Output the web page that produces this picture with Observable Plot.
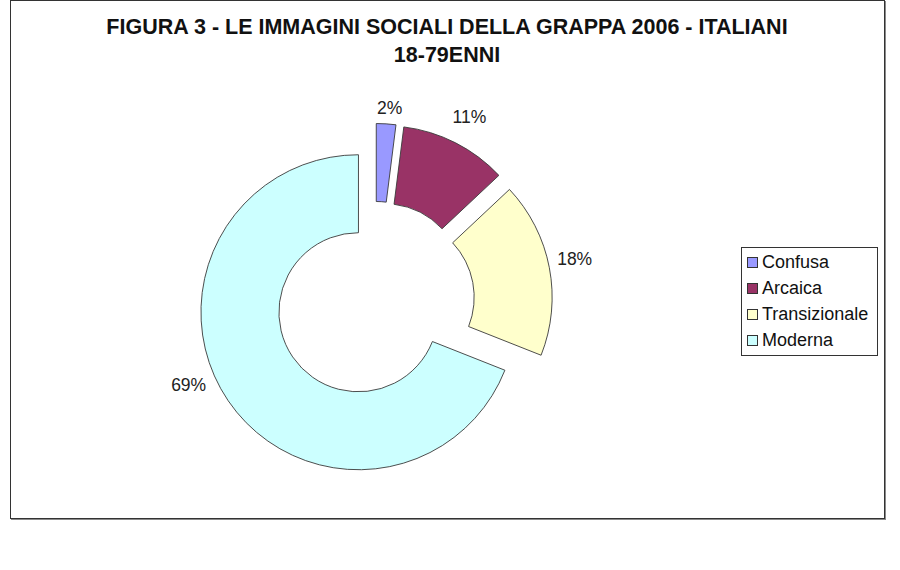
<!DOCTYPE html>
<html>
<head>
<meta charset="utf-8">
<script src="https://cdn.jsdelivr.net/npm/d3@7"></script>
<script src="https://cdn.jsdelivr.net/npm/@observablehq/plot@0.6"></script>
<style>
  html, body { margin: 0; padding: 0; background: #fff; }
  #wrap { position: relative; width: 900px; height: 570px; font-family: "Liberation Sans", Arial, sans-serif; }
  #frame { position: absolute; left: 10px; top: 0px; width: 873px; height: 517px; border: 1px solid #333; box-shadow: 1px 1px 0 #8a8a8a; }
  #title { position: absolute; left: 10px; width: 874px; top: 13px; text-align: center; font-weight: bold; font-size: 21.5px; line-height: 28px; color: #111; }
  #legend { position: absolute; left: 741px; top: 247px; width: 137px; height: 109px; border: 1px solid #333; box-sizing: border-box; padding-top: 1px; }
  .item { display: flex; align-items: center; height: 26px; font-size: 18px; color: #111; padding-left: 5px; white-space: nowrap; }
  .sw { width: 11px; height: 11px; border: 1px solid #333; margin-right: 4px; box-sizing: border-box; flex: none; }
  #chart { position: absolute; left: 0; top: 0; }
</style>
</head>
<body>
<div id="wrap">
  <div id="frame"></div>
  <div id="chart"></div>
  <div id="title">FIGURA 3 - LE IMMAGINI SOCIALI DELLA GRAPPA 2006 - ITALIANI<br>18-79ENNI</div>
  <div id="legend"></div>
</div>
<script>
// ---- data ----
const categories = ["Confusa", "Arcaica", "Transizionale", "Moderna"];
const values = [2, 11, 18, 69];
const labels = ["2%", "11%", "18%", "69%"];
const colors = ["#9999ff", "#993366", "#ffffcc", "#ccffff"];

// ---- layout ----
const cx = 375, cy = 301, R = 157.5;
const innerRatio = 0.505;
const explode = 20 / R;        // explosion in radius units
const labelRadius = 1.165;     // from each exploded slice centre, in radius units

const data = categories.map((c, i) => ({category: c, value: values[i], label: labels[i], color: colors[i]}));
const pie = d3.pie().sort(null).value(d => d.value)(data);
pie.forEach(p => { p.mid = (p.startAngle + p.endAngle) / 2; });

// label placement tweaks (layout only)
const labelAngleShift = [0.012, 0, -0.02, 0.195];
const labelRadiusShift = [-0.065, 0.022, 0, 0.01];
const labelRows = pie.map((p, i) => {
  const a = p.mid + labelAngleShift[i];
  const rr = labelRadius + labelRadiusShift[i];
  return {
    x: explode * Math.sin(p.mid) + rr * Math.sin(a),
    y: explode * Math.cos(p.mid) + rr * Math.cos(a),
    text: p.data.label
  };
});

function donut(index, scales) {
  const sx = scales.x, sy = scales.y;
  const Rpx = sx(1) - sx(0);
  const arc = d3.arc().innerRadius(Rpx * innerRatio).outerRadius(Rpx);
  const g = d3.create("svg:g");
  pie.forEach(p => {
    const ox = sx(explode * Math.sin(p.mid));
    const oy = sy(explode * Math.cos(p.mid));
    g.append("path")
      .attr("d", arc(p))
      .attr("transform", `translate(${ox},${oy})`)
      .attr("fill", p.data.color)
      .attr("stroke", "#3a3a3a")
      .attr("stroke-width", 0.9)
      .attr("stroke-linejoin", "miter");
  });
  return g.node();
}

const chart = Plot.plot({
  width: 900,
  height: 570,
  margin: 0,
  x: {domain: [-1, 1], range: [cx - R, cx + R], axis: null},
  y: {domain: [-1, 1], range: [cy + R, cy - R], axis: null},
  style: {fontFamily: "'Liberation Sans', Arial, sans-serif", background: "transparent", overflow: "visible"},
  marks: [
    donut,
    Plot.text(labelRows, {x: "x", y: "y", text: "text", fontSize: 17.5, fill: "#222", textAnchor: "middle"})
  ]
});
document.getElementById("chart").appendChild(chart);

// legend
const legend = d3.select("#legend");
data.forEach(d => {
  const it = legend.append("div").attr("class", "item");
  it.append("div").attr("class", "sw").style("background", d.color);
  it.append("span").text(d.category);
});
</script>
</body>
</html>
